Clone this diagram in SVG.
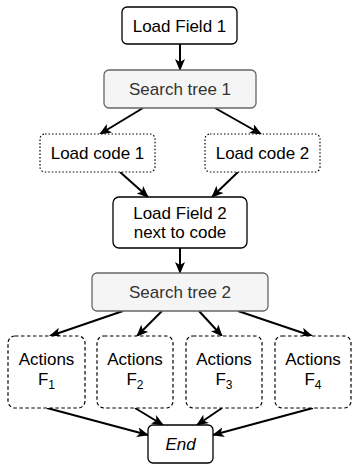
<svg xmlns="http://www.w3.org/2000/svg" width="352" height="466" viewBox="0 0 352 466">
<defs>
<style>
text{font-family:"Liberation Sans",Arial,sans-serif;font-size:17px;text-anchor:middle;fill:#000}
.box{fill:#fff;stroke:#000;stroke-width:1.3}
.gray{fill:#f5f5f5;stroke:#666;stroke-width:1.3}
.gt{fill:#333}
.dot{fill:#fff;stroke:#000;stroke-width:1.2;stroke-dasharray:1.5 2}
.dash{fill:#fff;stroke:#000;stroke-width:1.2;stroke-dasharray:3.5 2.5}
.sub{font-size:12px}
.edge{stroke:#000;stroke-width:2;fill:none;marker-end:url(#arr)}
</style>
<marker id="arr" markerUnits="userSpaceOnUse" viewBox="0 0 12 10" refX="11" refY="5" markerWidth="12" markerHeight="10" orient="auto">
<path d="M0,0 L12,5 L0,10 L3,5 z" fill="#000"/>
</marker>
</defs>
<g id="connectors">
<line class="edge" x1="180" y1="44" x2="180" y2="70"/>
<line class="edge" x1="143" y1="108" x2="100" y2="134"/>
<line class="edge" x1="215" y1="108" x2="261" y2="134"/>
<line class="edge" x1="120" y1="172" x2="148" y2="197"/>
<line class="edge" x1="238" y1="172" x2="212" y2="197"/>
<line class="edge" x1="180" y1="248" x2="180" y2="273"/>
<line class="edge" x1="123" y1="311" x2="50" y2="336"/>
<line class="edge" x1="162" y1="311" x2="137" y2="336"/>
<line class="edge" x1="199" y1="311" x2="222" y2="336"/>
<line class="edge" x1="238" y1="311" x2="312" y2="336"/>
<line class="edge" x1="47" y1="408" x2="148" y2="435"/>
<line class="edge" x1="135" y1="408" x2="163" y2="425"/>
<line class="edge" x1="222" y1="408" x2="197" y2="425"/>
<line class="edge" x1="313" y1="408" x2="213" y2="435"/>
</g>
<g id="loadField1">
<rect class="box" x="122" y="7" width="115" height="37" rx="5"/>
<text x="179.5" y="31.5">Load Field 1</text>
</g>
<g id="searchTree1">
<rect class="gray" x="104" y="70" width="152" height="38" rx="5"/>
<text class="gt" x="180" y="95">Search tree 1</text>
</g>
<g id="loadCode1">
<rect class="dot" x="40" y="134" width="115" height="38" rx="5"/>
<text x="97.5" y="159">Load code 1</text>
</g>
<g id="loadCode2">
<rect class="dot" x="205" y="134" width="115" height="38" rx="5"/>
<text x="262.5" y="159">Load code 2</text>
</g>
<g id="loadField2">
<rect class="box" x="113" y="197" width="134" height="51" rx="6"/>
<text x="180" y="218.5">Load Field 2</text>
<text x="180" y="238">next to code</text>
</g>
<g id="searchTree2">
<rect class="gray" x="92" y="273" width="176" height="38" rx="5"/>
<text class="gt" x="180" y="298">Search tree 2</text>
</g>
<g id="actionsF1">
<rect class="dash" x="8" y="336" width="77" height="72" rx="7"/>
<text x="46.5" y="365">Actions</text>
<text x="46.5" y="385">F<tspan class="sub" dy="4">1</tspan></text>
</g>
<g id="actionsF2">
<rect class="dash" x="97" y="336" width="76" height="72" rx="7"/>
<text x="135" y="365">Actions</text>
<text x="135" y="385">F<tspan class="sub" dy="4">2</tspan></text>
</g>
<g id="actionsF3">
<rect class="dash" x="186" y="336" width="76" height="72" rx="7"/>
<text x="224" y="365">Actions</text>
<text x="224" y="385">F<tspan class="sub" dy="4">3</tspan></text>
</g>
<g id="actionsF4">
<rect class="dash" x="275" y="336" width="76" height="72" rx="7"/>
<text x="313" y="365">Actions</text>
<text x="313" y="385">F<tspan class="sub" dy="4">4</tspan></text>
</g>
<g id="end">
<rect class="box" x="148" y="425" width="65" height="38" rx="5"/>
<text x="180.5" y="450" font-style="italic">End</text>
</g>
</svg>
